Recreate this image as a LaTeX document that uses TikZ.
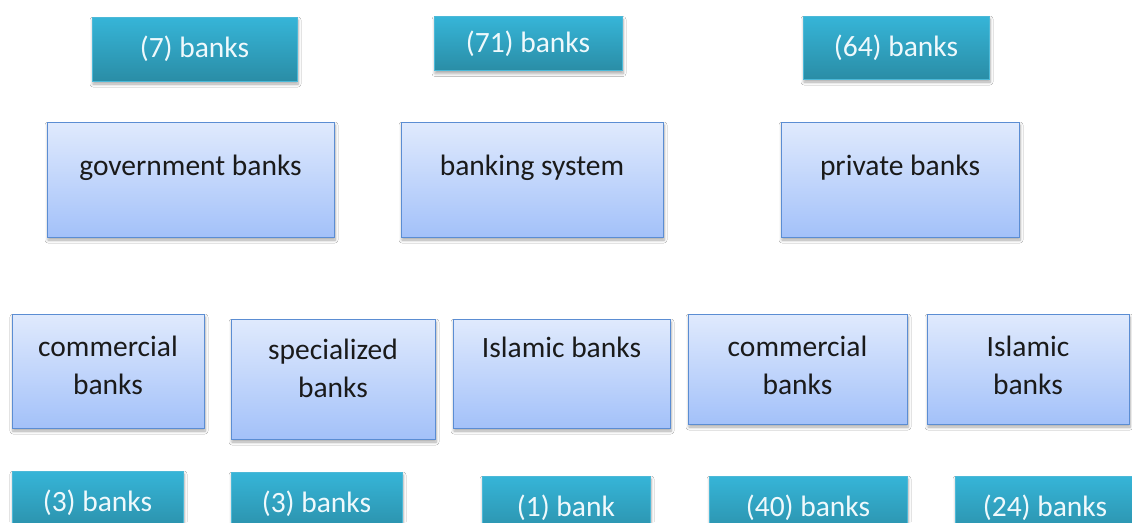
\documentclass[tikz,border=0pt]{standalone}
\usepackage{fontspec}
\setmainfont{Carlito}
\usetikzlibrary{shadows.blur}
\definecolor{tealtop}{HTML}{36B5D8}
\definecolor{tealbot}{HTML}{2A8DA6}
\definecolor{tealedge}{HTML}{4CB9D8}
\definecolor{bluetop}{HTML}{E0EAFD}
\definecolor{bluebot}{HTML}{A3C1F9}
\definecolor{blueedge}{HTML}{5B8DD3}
\definecolor{inktext}{HTML}{1A1A1A}
\tikzset{
  myshadow/.style={blur shadow={shadow blur steps=6, shadow xshift=1pt, shadow yshift=-3pt, shadow opacity=35, shadow blur radius=3pt}},
  tealbox/.style={draw=tealedge, line width=0.8pt, top color=tealtop, bottom color=tealbot,
    inner sep=0pt, text=white!92!tealtop, font=\fontsize{29.5}{36}\selectfont, myshadow},
  bluebox/.style={draw=blueedge, line width=1pt, top color=bluetop, bottom color=bluebot,
    inner sep=0pt, myshadow},
  boxtext/.style={anchor=north, inner sep=0pt, align=center, text=inktext,
    font=\fontsize{29.5}{38.5}\selectfont},
}
\begin{document}
\begin{tikzpicture}[x=1pt,y=-1pt]
\useasboundingbox (0,0) rectangle (1132,522);
\clip (0,0) rectangle (1132,522);
\fill[white] (0,0) rectangle (1132,522);

% top count boxes
\node[tealbox, minimum width=205pt, minimum height=64pt] (t7)  at (194.5,49)  {(7) banks};
\node[tealbox, minimum width=188pt, minimum height=54pt] (t71) at (528,43.5)  {(71) banks};
\node[tealbox, minimum width=186pt, minimum height=63pt] (t64) at (896,47.5)  {(64) banks};

% main category boxes
\node[bluebox, minimum width=287pt, minimum height=115pt] (gov)  at (190.5,179.5) {};
\node[bluebox, minimum width=262pt, minimum height=115pt] (sys)  at (532,179.5)   {};
\node[bluebox, minimum width=238pt, minimum height=115pt] (priv) at (900,179.5)   {};
\node[boxtext] (govt)  at ([yshift=-33pt]gov.north)  {government banks};
\node[boxtext] (syst)  at ([yshift=-33pt]sys.north)  {banking system};
\node[boxtext] (privt) at ([yshift=-33pt]priv.north) {private banks};

% sub category boxes
\node[bluebox, minimum width=192pt, minimum height=114pt] (com1) at (108,371)   {};
\node[bluebox, minimum width=204pt, minimum height=120pt] (spec) at (333,379)   {};
\node[bluebox, minimum width=217pt, minimum height=109pt] (isl1) at (561.5,373.5) {};
\node[bluebox, minimum width=219pt, minimum height=110pt] (com2) at (797.5,369) {};
\node[bluebox, minimum width=202pt, minimum height=110pt] (isl2) at (1028,369)  {};
\node[boxtext] (com1t) at ([yshift=-22pt]com1.north) {commercial\\banks};
\node[boxtext] (spect) at ([yshift=-20pt]spec.north) {specialized\\banks};
\node[boxtext] (isl1t) at ([yshift=-18pt]isl1.north) {Islamic banks};
\node[boxtext] (com2t) at ([yshift=-22pt]com2.north) {commercial\\banks};
\node[boxtext] (isl2t) at ([yshift=-22pt]isl2.north) {Islamic\\banks};

% bottom count boxes
\node[tealbox, minimum width=171pt, minimum height=64pt] (b3a) at (97.5,503)  {(3) banks};
\node[tealbox, minimum width=171pt, minimum height=64pt] (b3b) at (316.5,504) {(3) banks};
\node[tealbox, minimum width=168pt, minimum height=64pt] (b1)  at (566,508)   {(1) bank};
\node[tealbox, minimum width=198pt, minimum height=64pt] (b40) at (808,508)   {(40) banks};
\node[tealbox, minimum width=180pt, minimum height=64pt] (b24) at (1045,508)  {(24) banks};
\end{tikzpicture}
\end{document}
